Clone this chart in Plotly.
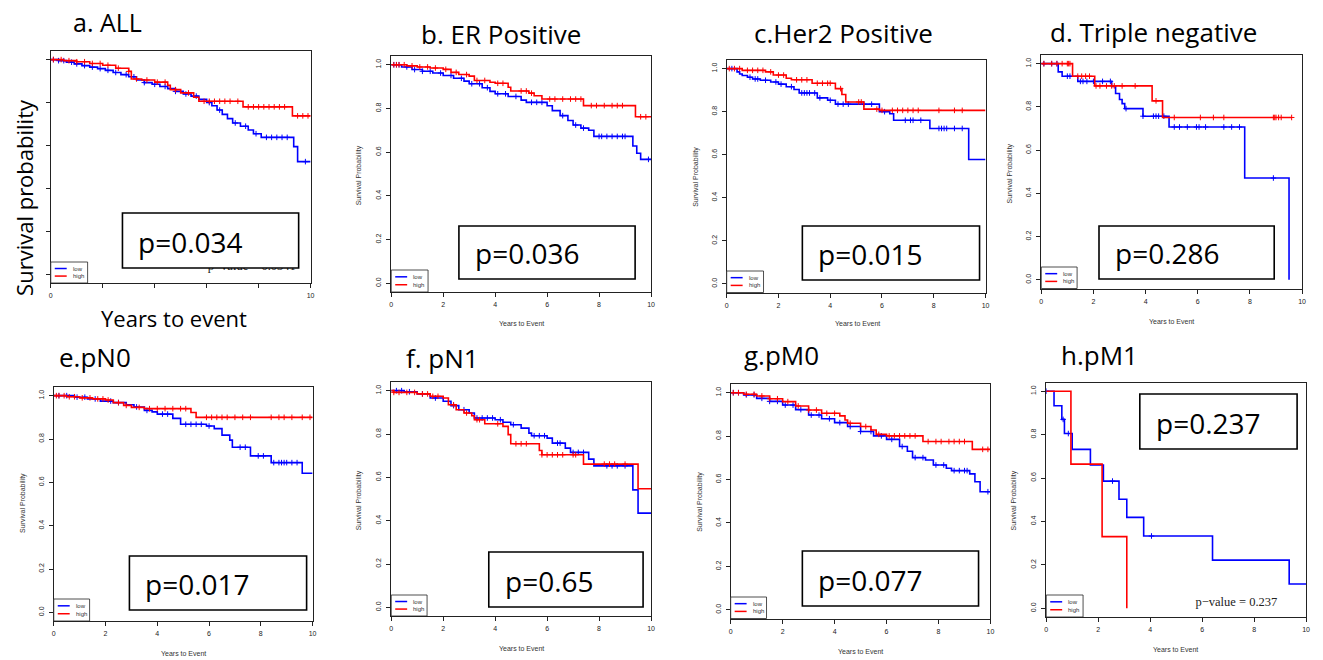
import numpy as np
import plotly.graph_objects as go

W, H = 1323, 660

# ---------------- data ----------------
panel_titles = ["a. ALL", "b. ER Positive", "c.Her2 Positive", "d. Triple negative",
                "e.pN0", "f. pN1", "g.pM0", "h.pM1"]
p_labels = ["p=0.034", "p=0.036", "p=0.015", "p=0.286",
            "p=0.017", "p=0.65", "p=0.077", "p=0.237"]
group_names = ["low", "high"]
x_ticks = [0, 2, 4, 6, 8, 10]
y_ticks = [0.0, 0.2, 0.4, 0.6, 0.8, 1.0]
y_tick_text = ["0.0", "0.2", "0.4", "0.6", "0.8", "1.0"]
pvalue_notes = ["p\u2212value = 0.0341", "p\u2212value = 0.237"]

# a. ALL
a_low_t = [0, 0.3, 0.6, 0.9, 1.2, 1.5, 1.8, 2.1, 2.4, 2.7, 3.0, 3.3, 3.6, 3.9, 4.2, 4.5, 4.8, 5.1,
           5.4, 5.7, 6.0, 6.2, 6.4, 6.6, 6.8, 7.0, 7.3, 7.6, 7.8, 8.1, 9.35, 9.5]
a_low_s = [1.0, 0.995, 0.988, 0.980, 0.972, 0.965, 0.958, 0.950, 0.940, 0.930, 0.920, 0.905, 0.893,
           0.885, 0.875, 0.865, 0.852, 0.840, 0.830, 0.815, 0.800, 0.785, 0.765, 0.745, 0.725, 0.705,
           0.690, 0.672, 0.655, 0.638, 0.595, 0.525]
a_low_end = 10
a_low_cens = [0.1, 0.3, 0.5, 0.8, 1.0, 1.3, 1.6, 1.9, 2.2, 2.5, 2.9, 3.2, 3.6, 4.0, 4.4, 4.8, 5.2,
              5.6, 6.1, 6.5, 7.1, 7.5, 7.9, 8.3, 8.5, 8.7, 8.9, 9.1, 9.8]
a_high_t = [0, 0.5, 1.0, 1.5, 2.0, 2.5, 3.0, 3.1, 3.5, 4.0, 4.5, 4.6, 5.0, 5.5, 5.7, 7.4, 9.3]
a_high_s = [1.0, 0.995, 0.990, 0.982, 0.974, 0.960, 0.945, 0.910, 0.905, 0.895, 0.880, 0.860,
            0.845, 0.825, 0.806, 0.780, 0.738]
a_high_end = 10
a_high_cens = [0.1, 0.4, 0.7, 1.0, 1.3, 1.6, 1.9, 2.2, 2.6, 3.0, 3.3, 3.7, 4.1, 4.4, 4.8, 5.3,
               5.9, 6.1, 6.3, 6.5, 6.7, 6.9, 7.2, 7.6, 7.8, 8.0, 8.2, 8.4, 8.6, 8.8, 9.0, 9.5, 9.7, 9.9]

# b. ER Positive
b_low_t = [0, 0.4, 0.8, 1.2, 1.6, 2.0, 2.4, 2.8, 3.0, 3.5, 3.8, 4.0, 4.5, 5.0, 5.2, 6.0, 6.2, 6.5,
           6.8, 7.0, 7.3, 7.6, 7.8, 9.3, 9.45, 9.6]
b_low_s = [1.0, 0.990, 0.978, 0.970, 0.962, 0.951, 0.938, 0.925, 0.913, 0.895, 0.878, 0.867, 0.855,
           0.838, 0.828, 0.812, 0.790, 0.767, 0.745, 0.724, 0.710, 0.700, 0.672, 0.628, 0.595, 0.567]
b_low_end = 10
b_low_cens = [0.1, 0.2, 0.3, 0.6, 0.9, 1.2, 1.5, 1.9, 2.3, 2.7, 3.1, 3.4, 3.7, 4.1, 4.4, 4.8, 5.4,
              5.6, 5.8, 6.6, 7.1, 7.4, 8.0, 8.1, 8.3, 8.5, 8.7, 8.9, 9.0, 9.9]
b_high_t = [0, 0.6, 1.0, 1.5, 2.0, 2.3, 2.6, 3.0, 3.2, 3.8, 4.0, 4.5, 4.6, 5.3, 5.5, 5.8, 7.4, 9.4]
b_high_s = [1.0, 0.995, 0.990, 0.985, 0.979, 0.965, 0.955, 0.948, 0.928, 0.920, 0.915, 0.897,
            0.880, 0.870, 0.858, 0.843, 0.813, 0.762]
b_high_end = 10
b_high_cens = [0.1, 0.2, 0.3, 0.5, 0.8, 1.1, 1.4, 1.7, 2.1, 2.5, 2.9, 3.3, 3.6, 4.1, 4.3, 5.0, 5.2,
               5.4, 6.1, 6.3, 6.6, 6.9, 7.1, 7.3, 7.7, 7.9, 8.2, 8.5, 8.7, 8.9, 9.6, 9.8]

# c. Her2 Positive
c_low_t = [0, 0.4, 0.5, 0.6, 0.8, 1.0, 1.3, 1.7, 2.0, 2.3, 2.6, 2.8, 3.5, 3.9, 4.2, 5.9, 6.3,
           6.45, 7.85, 9.35]
c_low_s = [1.0, 0.985, 0.975, 0.968, 0.960, 0.952, 0.946, 0.938, 0.928, 0.916, 0.903, 0.887, 0.864,
           0.853, 0.835, 0.800, 0.790, 0.760, 0.722, 0.578]
c_low_end = 10
c_low_cens = [0.2, 0.9, 1.1, 1.2, 1.5, 1.9, 2.1, 2.5, 2.9, 3.0, 3.1, 3.2, 3.4, 3.6, 4.0, 4.3, 4.5,
              4.7, 5.3, 5.6, 6.1, 6.9, 7.1, 7.2, 7.5, 8.2, 8.3, 8.4, 8.5, 8.8, 9.1]
c_high_t = [0, 0.6, 1.5, 1.8, 2.3, 2.5, 3.3, 4.2, 4.45, 4.6, 5.3, 5.9]
c_high_s = [1.0, 0.992, 0.985, 0.970, 0.955, 0.948, 0.932, 0.907, 0.880, 0.845, 0.812, 0.806]
c_high_end = 10
c_high_cens = [0.1, 0.3, 0.5, 0.8, 1.0, 1.2, 1.4, 1.7, 2.0, 2.2, 2.7, 2.9, 3.1, 3.5, 3.7, 3.9, 4.0,
               4.4, 5.1, 5.2, 5.8, 6.0, 6.4, 6.6, 6.8, 7.0, 7.2, 7.4, 8.2, 8.8, 9.1]

# d. Triple negative
d_low_t = [0, 0.65, 0.8, 1.4, 2.7, 2.85, 3.0, 3.1, 3.2, 3.9, 4.9, 7.8, 9.5]
d_low_s = [1.0, 0.962, 0.942, 0.918, 0.895, 0.862, 0.834, 0.815, 0.792, 0.757, 0.707, 0.471, 0.0]
d_low_end = 9.5
d_low_cens = [0.1, 0.4, 0.6, 1.0, 1.1, 1.5, 1.6, 1.75, 2.0, 2.35, 2.65, 3.25, 3.9, 4.3, 4.4, 4.5,
              4.7, 5.1, 5.3, 5.6, 5.95, 6.05, 6.3, 7.0, 7.3, 7.6, 8.9]
d_high_t = [0, 1.2, 2.05, 4.25, 4.65]
d_high_s = [1.0, 0.942, 0.897, 0.828, 0.751]
d_high_end = 9.6
d_high_cens = [0.1, 0.4, 0.6, 0.8, 1.0, 1.05, 1.1, 1.4, 1.55, 1.7, 1.85, 2.1, 2.25, 2.5, 2.7,
               2.8, 3.1, 3.6, 4.4, 5.1, 6.1, 6.6, 7.0, 8.9, 8.95, 9.0, 9.1, 9.2, 9.6]

# e. pN0
e_low_t = [0, 0.8, 1.3, 1.8, 2.3, 2.8, 3.1, 3.5, 3.8, 4.0, 4.6, 4.9, 5.9, 6.2, 6.5, 6.8, 6.9, 7.6,
           8.4, 9.6]
e_low_s = [1.0, 0.993, 0.985, 0.975, 0.968, 0.958, 0.948, 0.932, 0.925, 0.915, 0.895, 0.868, 0.860,
           0.848, 0.818, 0.795, 0.762, 0.722, 0.691, 0.642]
e_low_end = 10
e_low_cens = [0.2, 0.5, 0.9, 1.2, 1.6, 2.2, 2.5, 3.2, 3.6, 4.2, 4.4, 5.1, 5.3, 5.5, 5.7, 6.0, 7.2,
              7.4, 7.9, 8.1, 8.5, 8.7, 8.8, 8.9, 9.0, 9.2, 9.4]
e_high_t = [0, 0.5, 1.0, 1.5, 2.0, 2.3, 2.7, 3.0, 3.5, 5.3, 5.5]
e_high_s = [1.0, 0.995, 0.990, 0.985, 0.980, 0.968, 0.955, 0.946, 0.940, 0.922, 0.900]
e_high_end = 10
e_high_cens = [0.1, 0.2, 0.4, 0.6, 0.8, 1.1, 1.4, 1.7, 1.9, 2.1, 2.5, 2.8, 3.3, 3.7, 4.0, 4.3, 4.6,
               4.9, 5.1, 5.9, 6.1, 6.3, 6.5, 6.7, 7.0, 7.3, 7.6, 8.4, 8.7, 8.9, 9.2, 9.6, 9.9]

# f. pN1
f_low_t = [0, 0.5, 1.0, 1.5, 2.0, 2.3, 2.6, 3.0, 3.2, 4.0, 4.3, 4.6, 5.0, 5.3, 5.4, 6.0, 6.2, 6.7,
           6.9, 7.6, 7.8, 9.3, 9.5]
f_low_s = [1.0, 0.995, 0.985, 0.966, 0.951, 0.931, 0.912, 0.897, 0.874, 0.866, 0.854, 0.843, 0.827,
           0.804, 0.792, 0.781, 0.758, 0.735, 0.715, 0.684, 0.653, 0.542, 0.435]
f_low_end = 10
f_low_cens = [0.2, 0.4, 0.7, 1.2, 1.7, 2.4, 2.8, 3.3, 3.5, 3.7, 3.9, 4.2, 4.7, 5.5, 5.7, 5.9, 6.4,
              6.5, 7.0, 7.2, 7.4, 8.3, 8.5, 8.7, 9.0]
f_high_t = [0, 0.1, 1.0, 1.5, 2.0, 2.2, 2.5, 2.8, 3.1, 3.2, 3.6, 4.3, 4.5, 4.6, 5.7, 5.8, 7.4, 9.5]
f_high_s = [1.0, 0.992, 0.985, 0.974, 0.966, 0.935, 0.912, 0.897, 0.884, 0.866, 0.847, 0.835,
            0.797, 0.755, 0.724, 0.704, 0.661, 0.547]
f_high_end = 10
f_high_cens = [0.1, 0.3, 0.6, 0.9, 1.2, 1.4, 1.6, 1.8, 2.4, 2.9, 3.3, 3.4, 4.1, 4.8, 5.0, 5.2, 5.8,
               6.0, 6.2, 6.4, 6.6, 7.0, 7.1, 8.2, 8.4, 8.6, 9.0]

# g. pM0
g_low_t = [0, 0.5, 1.0, 1.5, 2.0, 2.5, 3.0, 3.5, 4.0, 4.5, 5.0, 5.5, 6.0, 6.5, 6.8, 7.0, 7.5, 7.8,
           8.3, 8.5, 9.2, 9.4, 9.6]
g_low_s = [1.0, 0.990, 0.974, 0.960, 0.943, 0.922, 0.897, 0.880, 0.862, 0.844, 0.821, 0.801, 0.785,
           0.752, 0.730, 0.701, 0.690, 0.667, 0.652, 0.641, 0.626, 0.590, 0.544]
g_low_end = 10
g_low_cens = [0.1, 0.3, 0.6, 0.9, 1.2, 1.5, 1.8, 2.1, 2.4, 2.7, 3.1, 3.4, 3.8, 4.2, 4.6, 5.0, 5.4,
              5.8, 6.2, 6.6, 7.1, 7.4, 7.9, 8.2, 8.6, 8.8, 9.0, 9.1, 9.9]
g_high_t = [0, 0.5, 1.0, 1.5, 2.0, 2.5, 3.0, 3.5, 4.2, 4.4, 4.5, 5.0, 5.4, 5.6, 6.0, 7.4, 9.3]
g_high_s = [1.0, 0.993, 0.985, 0.972, 0.959, 0.939, 0.920, 0.905, 0.893, 0.874, 0.859, 0.844,
            0.828, 0.808, 0.801, 0.775, 0.739]
g_high_end = 10
g_high_cens = [0.1, 0.3, 0.6, 0.9, 1.2, 1.5, 1.8, 2.2, 2.6, 3.0, 3.3, 3.7, 4.0, 4.6, 5.2, 5.7, 6.1,
               6.3, 6.5, 6.7, 6.9, 7.1, 7.6, 7.9, 8.1, 8.4, 8.6, 8.8, 9.0, 9.7, 9.9]

# h. pM1
h_low_t = [0, 0.3, 0.6, 0.7, 1.0, 1.7, 2.2, 2.8, 3.1, 3.75, 6.4, 9.35]
h_low_s = [1.0, 0.933, 0.870, 0.805, 0.732, 0.660, 0.586, 0.502, 0.419, 0.333, 0.222, 0.112]
h_low_end = 10
h_low_cens = [0.0, 0.65, 0.85, 2.55, 4.05]
h_high_t = [0, 0.95, 2.15, 3.1]
h_high_s = [1.0, 0.664, 0.330, 0.0]
h_high_end = 3.1
h_high_cens = []

curves = [
    ((a_low_t, a_low_s, a_low_end, a_low_cens), (a_high_t, a_high_s, a_high_end, a_high_cens)),
    ((b_low_t, b_low_s, b_low_end, b_low_cens), (b_high_t, b_high_s, b_high_end, b_high_cens)),
    ((c_low_t, c_low_s, c_low_end, c_low_cens), (c_high_t, c_high_s, c_high_end, c_high_cens)),
    ((d_low_t, d_low_s, d_low_end, d_low_cens), (d_high_t, d_high_s, d_high_end, d_high_cens)),
    ((e_low_t, e_low_s, e_low_end, e_low_cens), (e_high_t, e_high_s, e_high_end, e_high_cens)),
    ((f_low_t, f_low_s, f_low_end, f_low_cens), (f_high_t, f_high_s, f_high_end, f_high_cens)),
    ((g_low_t, g_low_s, g_low_end, g_low_cens), (g_high_t, g_high_s, g_high_end, g_high_cens)),
    ((h_low_t, h_low_s, h_low_end, h_low_cens), (h_high_t, h_high_s, h_high_end, h_high_cens)),
]

# ---------------- layout geometry (pixels) ----------------
plot_boxes = [(49, 51, 310, 283), (391, 56, 652, 292), (728, 60, 988, 292.5), (1044, 55, 1306, 288.5),
              (52, 387, 312, 621), (391, 382, 652, 616), (732, 384, 993, 618.5), (1049, 382.5, 1310, 617)]
p_boxes = [(121, 213, 298, 268), (459, 226, 636, 279), (804, 226, 982, 280), (1102, 226, 1278, 279),
           (128, 556, 306, 610), (489, 552, 644, 607), (804, 551, 981, 606), (1143, 394, 1301, 449)]
legend_boxes = [(49, 262, 86, 283), (391, 270, 428, 292), (728, 271, 765, 292.5), (1044, 267, 1080, 288.5),
                (52, 599, 88, 621), (391, 595, 427, 616), (732, 597, 768, 618.5), (1049, 595, 1086, 617)]
title_pos = [(106, 22), (501, 34), (845, 33), (1157, 32), (93, 357), (443, 358), (783, 355), (1103, 355)]
ytitle_pos = [(22, 197), (359, 175), (697, 177), (1013, 173), (21, 503), (359, 500), (701, 502), (1017, 500)]
xtitle_pos = [(173, 318), (522, 323), (859, 323), (1175, 321), (182, 653), (522, 648), (862, 651), (1179, 649)]
note_pos = [(251, 267), (1240, 603)]  # p-value notes in panels a and h

COLORS = ["#0000FF", "#FF0000"]
TITLE_FONT = "'Open Sans', Lato, sans-serif"
SMALL_FONT = "'Liberation Sans', Arial, sans-serif"


def px(x):
    return x / W


def py(y):
    return 1 - y / H


def step_value(t, s, c):
    idx = np.searchsorted(np.asarray(t), c, side="right") - 1
    return float(np.asarray(s)[max(idx, 0)])


fig = go.Figure()
shapes = []
annotations = []

for i in range(8):
    ax = "" if i == 0 else str(i + 1)
    xref, yref = "x" + ax, "y" + ax
    l, t, r, b = plot_boxes[i]

    for g, (tt, ss, end, cens) in enumerate(curves[i]):
        xs = list(tt) + [end]
        ys = list(ss) + [ss[-1]]
        fig.add_trace(go.Scatter(x=xs, y=ys, mode="lines", line=dict(color=COLORS[g], width=1.6, shape="hv"),
                                 xaxis=xref, yaxis=yref, showlegend=False, hoverinfo="skip"))
        if len(cens):
            cy = [step_value(tt, ss, c) for c in cens]
            fig.add_trace(go.Scatter(x=cens, y=cy, mode="markers",
                                     marker=dict(symbol="cross-thin", size=4,
                                                 line=dict(color=COLORS[g], width=1)),
                                     xaxis=xref, yaxis=yref, showlegend=False, hoverinfo="skip"))

    # axes
    first = i == 0
    xkw = dict(domain=[px(l), px(r)], range=[0, 10], showline=True, linecolor="#222", linewidth=1,
               mirror=True, ticks="outside", ticklen=4, tickwidth=1, tickcolor="#222",
               tickvals=x_ticks, showgrid=False, zeroline=False, anchor=yref, fixedrange=True,
               tickfont=dict(family=SMALL_FONT, size=7, color="#222"), ticklabelstandoff=2)
    if first:
        xkw["ticktext"] = [str(v) if v in (0, 10) else "" for v in x_ticks]
    ykw = dict(domain=[py(b), py(t)], range=[-0.04, 1.04], showline=True, linecolor="#222", linewidth=1,
               mirror=True, ticks="outside", ticklen=4, tickwidth=1, tickcolor="#222",
               tickvals=y_ticks, ticktext=([""] * 6 if first else y_tick_text), tickangle=-90,
               showgrid=False, zeroline=False, anchor=xref, fixedrange=True,
               tickfont=dict(family=SMALL_FONT, size=7, color="#222"), ticklabelstandoff=2)
    fig.layout["xaxis" + ax] = xkw
    fig.layout["yaxis" + ax] = ykw

    # title
    tx, ty = title_pos[i]
    annotations.append(dict(x=px(tx), y=py(ty), xref="paper", yref="paper", text=panel_titles[i],
                            showarrow=False, xanchor="center", yanchor="middle",
                            font=dict(family=TITLE_FONT, size=25 if first else 26, color="black")))
    # axis titles
    yx, yy = ytitle_pos[i]
    xx, xy = xtitle_pos[i]
    annotations.append(dict(x=px(yx), y=py(yy), xref="paper", yref="paper",
                            text="Survival probability" if first else "Survival Probability",
                            textangle=-90, showarrow=False, xanchor="center", yanchor="middle",
                            font=dict(family=TITLE_FONT if first else SMALL_FONT,
                                      size=22 if first else 7, color="black" if first else "#333")))
    annotations.append(dict(x=px(xx), y=py(xy), xref="paper", yref="paper",
                            text="Years to event" if first else "Years to Event",
                            showarrow=False, xanchor="center", yanchor="middle",
                            font=dict(family=TITLE_FONT if first else SMALL_FONT,
                                      size=22 if first else 7, color="black" if first else "#333")))

    # legend box
    ll, lt, lr, lb = legend_boxes[i]
    shapes.append(dict(type="rect", xref="paper", yref="paper", x0=px(ll), x1=px(lr), y0=py(lb), y1=py(lt),
                       line=dict(color="#222", width=0.8), fillcolor="white", layer="above"))
    for g in range(2):
        ry = lt + (0.31 if g == 0 else 0.67) * (lb - lt)
        shapes.append(dict(type="line", xref="paper", yref="paper", x0=px(ll + 4), x1=px(ll + 16),
                           y0=py(ry), y1=py(ry), line=dict(color=COLORS[g], width=1.5), layer="above"))
        annotations.append(dict(x=px(ll + 20), y=py(ry), xref="paper", yref="paper", text=group_names[g],
                                showarrow=False, xanchor="left", yanchor="middle",
                                font=dict(family=SMALL_FONT, size=6, color="#333")))

    # p-value box
    bl, bt, br, bb = p_boxes[i]
    shapes.append(dict(type="rect", xref="paper", yref="paper", x0=px(bl), x1=px(br), y0=py(bb), y1=py(bt),
                       line=dict(color="black", width=1.6), fillcolor="white", layer="above"))
    annotations.append(dict(x=px(bl + 14), y=py((bt + bb) / 2 + 1), xref="paper", yref="paper",
                            text=p_labels[i], showarrow=False, xanchor="left", yanchor="middle",
                            font=dict(family=TITLE_FONT, size=28, color="black")))

# p-value notes (R text), drawn as trace text so the p box can overlap the one in panel a
for k, (pi, note) in enumerate([(0, pvalue_notes[0]), (7, pvalue_notes[1])]):
    ax = "" if pi == 0 else str(pi + 1)
    l, t, r, b = plot_boxes[pi]
    nx, ny = note_pos[k]
    dx = (nx - l) / (r - l) * 10
    dy = -0.04 + (b - ny) / (b - t) * 1.08
    fig.add_trace(go.Scatter(x=[dx], y=[dy], mode="text", text=[note], textposition="middle center",
                             textfont=dict(family="'Liberation Serif', 'Times New Roman', serif",
                                           size=12.5, color="#222"),
                             xaxis="x" + ax, yaxis="y" + ax, showlegend=False, hoverinfo="skip"))

fig.update_layout(width=W, height=H, margin=dict(l=0, r=0, t=0, b=0), paper_bgcolor="white",
                  plot_bgcolor="white", showlegend=False, shapes=shapes, annotations=annotations)

fig.write_html("out.html", config={"displayModeBar": False, "staticPlot": True},
               post_script="document.body.style.margin='0px';document.body.style.overflow='hidden';")
